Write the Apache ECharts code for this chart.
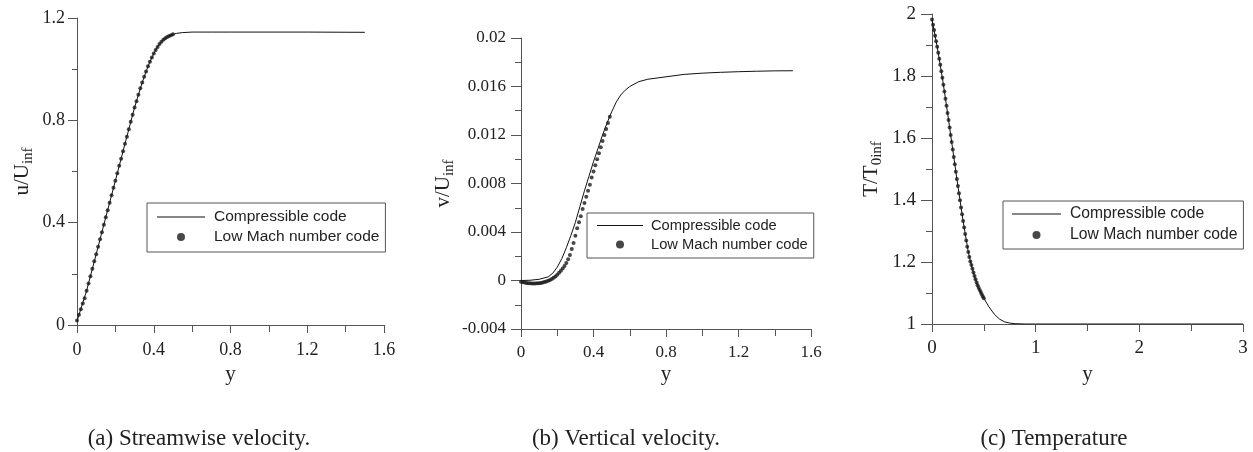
<!DOCTYPE html>
<html>
<head>
<meta charset="utf-8">
<script src="https://cdn.jsdelivr.net/npm/echarts@6.0.0/dist/echarts.min.js"></script>
<style>
html,body{margin:0;padding:0;background:#fff;}
#chart{width:1253px;height:452px;}
</style>
</head>
<body>
<div id="chart"></div>
<script>
// ---------- Panel (a): streamwise velocity ----------
const aLineY = [0,0.05,0.1,0.15,0.2,0.25,0.3,0.32,0.34,0.36,0.38,0.4,0.42,0.44,0.46,0.48,0.5,0.52,0.55,0.6,0.7,0.8,1.0,1.2,1.5];
const aLineU = [0.015,0.134,0.277,0.421,0.564,0.708,0.850,0.900,0.948,0.991,1.029,1.061,1.087,1.107,1.121,1.130,1.136,1.140,1.143,1.145,1.145,1.145,1.145,1.145,1.144];
const aDotY = [0,0.01,0.02,0.03,0.04,0.05,0.06,0.07,0.08,0.09,0.1,0.11,0.12,0.13,0.14,0.15,0.16,0.17,0.18,0.19,0.2,0.21,0.22,0.23,0.24,0.25,0.26,0.27,0.28,0.29,0.3,0.31,0.32,0.33,0.34,0.35,0.36,0.37,0.38,0.39,0.4,0.41,0.42,0.43,0.44,0.45,0.46,0.47,0.48,0.49,0.5];
const aDotU = [0.018,0.040,0.062,0.084,0.105,0.134,0.162,0.191,0.220,0.249,0.277,0.306,0.335,0.363,0.392,0.421,0.449,0.478,0.507,0.536,0.564,0.593,0.622,0.650,0.679,0.708,0.736,0.765,0.794,0.822,0.850,0.875,0.900,0.925,0.948,0.970,0.991,1.011,1.029,1.046,1.061,1.075,1.087,1.098,1.107,1.115,1.121,1.126,1.130,1.133,1.136];

// ---------- Panel (b): vertical velocity ----------
const bLineY = [0,0.05,0.1,0.15,0.175,0.2,0.225,0.25,0.275,0.3,0.325,0.35,0.375,0.4,0.425,0.45,0.475,0.5,0.525,0.55,0.575,0.6,0.65,0.7,0.8,0.9,1.0,1.1,1.2,1.3,1.4,1.5];
const bLineV = [0,0.00002,0.0001,0.0003,0.0006,0.0011,0.0018,0.0027,0.0037,0.0048,0.0061,0.0074,0.0086,0.0098,0.0109,0.0120,0.0130,0.0139,0.0147,0.0153,0.0157,0.0160,0.0164,0.0166,0.0168,0.0170,0.0171,0.01717,0.01722,0.01726,0.01729,0.0173];
const bDotY = [0,0.01,0.02,0.03,0.04,0.05,0.06,0.07,0.08,0.09,0.1,0.11,0.12,0.13,0.14,0.15,0.16,0.17,0.18,0.19,0.2,0.21,0.22,0.23,0.24,0.25,0.26,0.27,0.28,0.29,0.3,0.31,0.32,0.33,0.34,0.35,0.36,0.37,0.38,0.39,0.4,0.41,0.42,0.43,0.44,0.45,0.46,0.47,0.48,0.49];
const bDotV = [-0.0001,-0.00014,-0.00017,-0.0002,-0.00022,-0.00023,-0.00024,-0.00024,-0.00024,-0.00023,-0.00022,-0.0002,-0.00017,-0.00013,-0.00008,-0.00002,0.00005,0.00013,0.00022,0.00034,0.00048,0.00063,0.0008,0.00098,0.0012,0.00145,0.00175,0.0021,0.0026,0.0031,0.0037,0.0043,0.0048,0.0053,0.0059,0.0064,0.0069,0.0074,0.0079,0.0085,0.0090,0.0095,0.0100,0.0105,0.0110,0.0115,0.0120,0.0125,0.0130,0.0135];

// ---------- Panel (c): temperature ----------
const cLineY = [0,0.05,0.1,0.15,0.2,0.25,0.3,0.35,0.375,0.4,0.425,0.45,0.475,0.5,0.55,0.6,0.65,0.7,0.75,0.8,0.9,1.0,1.5,2.0,2.5,3.0];
const cLineT = [1.982,1.894,1.794,1.681,1.563,1.445,1.332,1.232,1.196,1.166,1.139,1.117,1.099,1.083,1.055,1.032,1.016,1.007,1.003,1.001,1.0,1.0,1.0,1.0,1.0,1.0];
const cDotY = [0,0.01,0.02,0.03,0.04,0.05,0.06,0.07,0.08,0.09,0.1,0.11,0.12,0.13,0.14,0.15,0.16,0.17,0.18,0.19,0.2,0.21,0.22,0.23,0.24,0.25,0.26,0.27,0.28,0.29,0.3,0.31,0.32,0.33,0.34,0.35,0.36,0.37,0.38,0.39,0.4,0.41,0.42,0.43,0.44,0.45,0.46,0.47,0.48,0.49,0.5];
const cDotT = [1.982,1.965,1.948,1.930,1.912,1.894,1.875,1.856,1.836,1.815,1.794,1.772,1.750,1.727,1.704,1.681,1.658,1.634,1.610,1.587,1.563,1.539,1.515,1.491,1.468,1.445,1.422,1.399,1.376,1.354,1.332,1.311,1.290,1.269,1.249,1.232,1.216,1.202,1.190,1.178,1.166,1.155,1.144,1.134,1.125,1.117,1.110,1.103,1.096,1.089,1.083];

// ---------- Text ----------
const seriesNames = ['Compressible code', 'Low Mach number code'];
const xTitle = 'y';
const yTitles = [['u/U','inf'], ['v/U','inf'], ['T/T','0inf']];
const captions = ['(a) Streamwise velocity.', '(b) Vertical velocity.', '(c) Temperature'];

const SERIF = '"Liberation Serif", "Times New Roman", serif';
const SANS = '"Liberation Sans", Arial, sans-serif';
const INK = '#222';
const AXIS = '#555';

function pairs(xs, ys){ return xs.map((x,i)=>[x, ys[i]]); }

const grids = [
  {left:77, top:18, width:307, height:307},
  {left:521, top:38, width:290, height:291},
  {left:932, top:14, width:311, height:310}
];
const xCfg = [
  {min:0, max:1.6, interval:0.4, font:18, tick:8, margin:16, gap:39},
  {min:0, max:1.6, interval:0.4, font:17, tick:8, margin:15, gap:35},
  {min:0, max:3, interval:1, font:19, tick:8, margin:15, gap:40}
];
const yCfg = [
  {min:0, max:1.2, interval:0.4, font:18, tick:9, minor:5, margin:12, gap:41},
  {min:-0.004, max:0.02, interval:0.004, font:17, tick:10, minor:6, margin:15, gap:64},
  {min:1, max:2, interval:0.2, font:19, tick:11, minor:6, margin:16, gap:47}
];

const xAxes = xCfg.map((c,i)=>({
  type:'value', gridIndex:i, min:c.min, max:c.max, interval:c.interval,
  name:xTitle, nameLocation:'middle', nameGap:c.gap, nameMoveOverlap:false,
  nameTextStyle:{fontFamily:SERIF, fontSize:21, color:INK},
  axisLine:{show:true, onZero:false, lineStyle:{color:AXIS, width:1}},
  axisTick:{show:true, length:c.tick, lineStyle:{color:AXIS}},
  minorTick:{show:true, splitNumber:2, length:c.tick-1, lineStyle:{color:AXIS}},
  splitLine:{show:false}, minorSplitLine:{show:false},
  axisLabel:{fontFamily:SERIF, fontSize:c.font, color:INK, margin:c.margin, showMinLabel:true, showMaxLabel:true}
}));
const yAxes = yCfg.map((c,i)=>({
  type:'value', gridIndex:i, min:c.min, max:c.max, interval:c.interval,
  name:'{m|'+yTitles[i][0]+'}{s|'+yTitles[i][1]+'}',
  nameLocation:'middle', nameRotate:90, nameGap:c.gap, nameMoveOverlap:false,
  nameTextStyle:{
    rich:{
      m:{fontFamily:SERIF, fontSize:21, color:INK, lineHeight:24, verticalAlign:'top'},
      s:{fontFamily:SERIF, fontSize:15, color:INK, lineHeight:15, verticalAlign:'bottom'}
    }
  },
  axisLine:{show:true, onZero:false, lineStyle:{color:AXIS, width:1}},
  axisTick:{show:true, length:c.tick, lineStyle:{color:AXIS}},
  minorTick:{show:true, splitNumber:2, length:c.minor, lineStyle:{color:AXIS}},
  splitLine:{show:false}, minorSplitLine:{show:false},
  axisLabel:{fontFamily:SERIF, fontSize:c.font, color:INK, margin:c.margin, showMinLabel:true, showMaxLabel:true}
}));

const lineData = [pairs(aLineY,aLineU), pairs(bLineY,bLineV), pairs(cLineY,cLineT)];
const dotData = [pairs(aDotY,aDotU), pairs(bDotY,bDotV), pairs(cDotY,cDotT)];

const series = [];
for (let i=0;i<3;i++){
  series.push({
    name:seriesNames[0], type:'line', xAxisIndex:i, yAxisIndex:i,
    data:lineData[i], symbol:'none', smooth:false, silent:true, z:2,
    lineStyle:{color:'#111', width:1}, itemStyle:{color:'#111'}
  });
  series.push({
    name:seriesNames[1], type:'scatter', xAxisIndex:i, yAxisIndex:i,
    data:dotData[i], symbol:'circle', symbolSize:4, silent:true, z:3,
    itemStyle:{color:'#1a1a1a'}
  });
}

const LINE_ICON = 'path://M0,0 L48,0 L48,1 L0,1 Z';
const legCfg = [
  {left:147, top:203, font:15.5, w:48, pad:[6,6,7,10], gap:4, tp:4},
  {left:587, top:213, font:14.7, w:46, pad:[5,6,6,10], gap:4, tp:3},
  {left:1003, top:201, font:15.7, w:49, pad:[5,6,6,9], gap:5, tp:4}
];
const legends = legCfg.map(c=>({
  left:c.left, top:c.top, orient:'vertical', selectedMode:false,
  data:[{name:seriesNames[0], icon:LINE_ICON, itemStyle:{color:'#111'}}, {name:seriesNames[1], icon:'circle'}],
  itemWidth:c.w, itemHeight:8, itemGap:c.gap, symbolKeepAspect:true,
  padding:c.pad, borderColor:'#555', borderWidth:1, backgroundColor:'#fff',
  textStyle:{fontFamily:SANS, fontSize:c.font, color:INK, padding:[0,0,0,c.tp]}
}));

const capX = [199, 626, 1054];
const graphic = captions.map((t,i)=>({
  type:'text', x:capX[i], y:439, silent:true,
  style:{text:t, fontFamily:SERIF, fontSize:23, fill:INK, align:'center', verticalAlign:'middle'}
}));

const chart = echarts.init(document.getElementById('chart'), null, {renderer:'canvas'});
chart.setOption({
  backgroundColor:'#fff',
  animation:false,
  grid:grids,
  xAxis:xAxes,
  yAxis:yAxes,
  legend:legends,
  series:series,
  graphic:graphic
});
</script>
</body>
</html>
